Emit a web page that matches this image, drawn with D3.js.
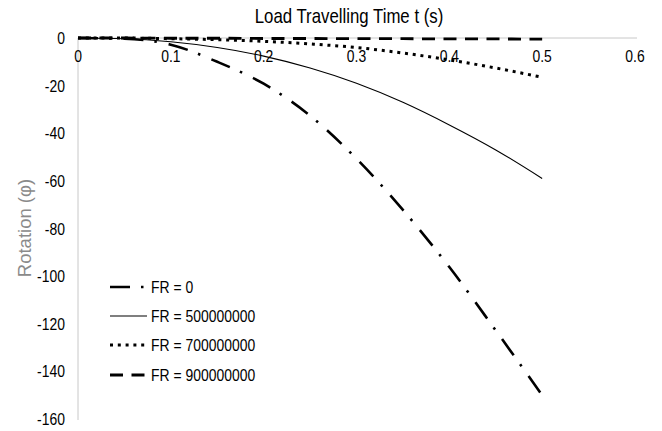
<!DOCTYPE html>
<html>
<head>
<meta charset="utf-8">
<script src="https://cdn.jsdelivr.net/npm/d3@7"></script>
<style>
  body { margin: 0; background: #fff; }
  svg { display: block; }
  text { font-family: "Liberation Sans Narrow", "Arial Narrow", "Liberation Sans", sans-serif; fill: #000; }
</style>
</head>
<body>
<script>
// time samples (s)
var times = [0, 0.05, 0.1, 0.15, 0.2, 0.25, 0.3, 0.35, 0.4, 0.45, 0.5];

// rotation per series
var fr0 = [0, -0.3, -2.8, -10, -19.2, -32.6, -50.7, -72.2, -96.2, -122.8, -150];
var fr5e8 = [0, -0.3, -1.6, -4, -7.6, -12.6, -19, -27, -36.5, -47, -59];
var fr7e8 = [0, 0, -0.3, -0.7, -1.4, -2.5, -4, -6.3, -9.2, -12.6, -16.5];
var fr9e8 = [0, 0, -0.1, -0.1, -0.2, -0.2, -0.3, -0.3, -0.4, -0.4, -0.5];

var seriesNames = ["FR = 0", "FR = 500000000", "FR = 700000000", "FR = 900000000"];
var xTicks = [0, 0.1, 0.2, 0.3, 0.4, 0.5, 0.6];
var yTicks = [0, -20, -40, -60, -80, -100, -120, -140, -160];

var W = 662, H = 431;
var NARROW = 0.82;  // fake Arial Narrow by squeezing Liberation Sans

var styles = [
    { width: 2.6, dash: "20,11,2.5,12" },
    { width: 1.1, dash: null },
    { width: 3, dash: "3,4.8" },
    { width: 2.8, dash: "13,8.5" }];

var svg = d3.select("body").append("svg")
    .attr("width", W)
    .attr("height", H);

var x = d3.scaleLinear().domain([0, 0.6]).range([78, 635]);
var y = d3.scaleLinear().domain([-160, 0]).range([419, 38]);

function narrowText(px, py, size, anchor, str) {
    return svg.append("text")
        .attr("transform", "translate(" + px + "," + py + ") scale(" + NARROW + ",1)")
        .attr("text-anchor", anchor)
        .attr("font-size", size)
        .text(str); }

// axis lines (no tick marks)
svg.append("line")
    .attr("x1", x(0)).attr("x2", x(0.6) + 2)
    .attr("y1", y(0)).attr("y2", y(0))
    .attr("stroke", "#c8c8c8").attr("stroke-width", 1);
svg.append("line")
    .attr("x1", x(0)).attr("x2", x(0))
    .attr("y1", y(0)).attr("y2", y(-160) + 1)
    .attr("stroke", "#c8c8c8").attr("stroke-width", 1);

// tick labels
xTicks.forEach(function(d) {
    narrowText(x(d), 62, 17, "middle", d === 0 ? "0" : d3.format(".1f")(d)); });

yTicks.forEach(function(d) {
    narrowText(65, y(d) + 6, 17, "end", d); });

// titles
narrowText(349, 23, 20.5, "middle", "Load Travelling Time t (s)");

svg.append("text")
    .attr("transform", "translate(31,228) rotate(-90)")
    .attr("text-anchor", "middle")
    .style("font-family", "'Liberation Sans', Arial, sans-serif")
    .style("fill", "#8a8a8a")
    .attr("font-size", 18.5)
    .text("Rotation (\u03c6)");

// curves
var line = d3.line()
    .x(function(d) { return x(d[0]); })
    .y(function(d) { return y(d[1]); })
    .curve(d3.curveMonotoneX);

var allSeries = [fr0, fr5e8, fr7e8, fr9e8];

function applyStyle(sel, st) {
    sel.attr("fill", "none")
        .attr("stroke", "#000")
        .attr("stroke-width", st.width);
    if (st.dash) sel.attr("stroke-dasharray", st.dash);
    return sel; }

// draw the flat ones first so the steep ones sit on top
[3, 2, 1, 0].forEach(function(i) {
    var pts = times.map(function(t, j) { return [t, allSeries[i][j]]; });
    applyStyle(svg.append("path").attr("d", line(pts)), styles[i]);
});

// legend
var legendY = [287, 316, 345, 375];
seriesNames.forEach(function(name, i) {
    applyStyle(svg.append("line")
        .attr("x1", 110).attr("x2", 147)
        .attr("y1", legendY[i]).attr("y2", legendY[i]), styles[i]);
    narrowText(151, legendY[i] + 6, 17, "start", name);
});
</script>
</body>
</html>
